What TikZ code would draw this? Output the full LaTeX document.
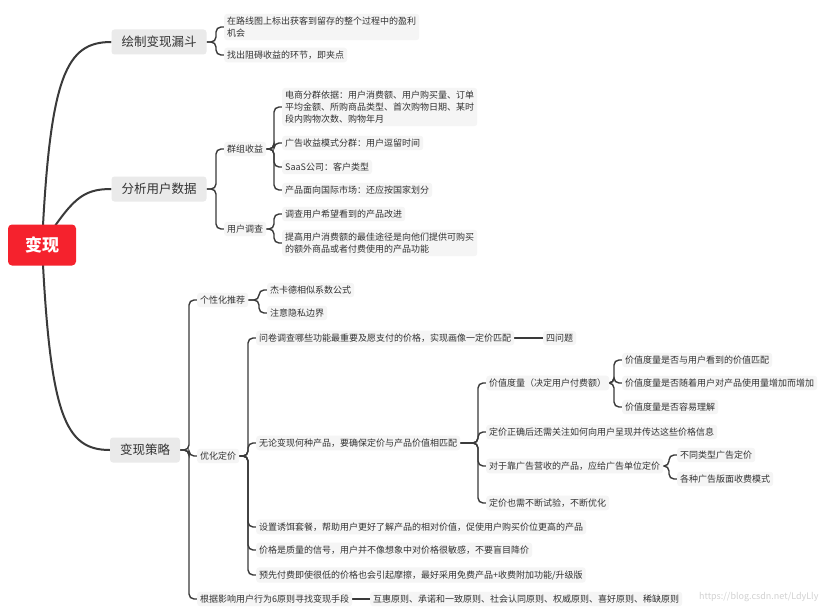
\documentclass[tikz,border=0pt]{standalone}
\usepackage{fontspec}
\setmainfont{Noto Sans CJK SC}
\usetikzlibrary{backgrounds}
\definecolor{rootred}{HTML}{F5222D}
\definecolor{linegray}{HTML}{3A3A3A}
\definecolor{boxgray}{HTML}{EAEAEA}
\definecolor{leafgray}{HTML}{F5F5F5}
\definecolor{inkgray}{HTML}{333333}

\tikzset{
  rootbox/.style={fill=rootred, rounded corners=4pt, minimum width=68pt, minimum height=41pt,
    text=white, font=\fontsize{17}{20}\selectfont\bfseries},
  topic/.style={fill=boxgray, rounded corners=3pt, inner xsep=10pt, minimum height=25pt,
    font=\fontsize{12.5}{14}\selectfont, text=inkgray},
  leaf/.style={fill=leafgray, rounded corners=3pt, inner xsep=3pt, inner ysep=3pt, anchor=west,
    align=left, font=\fontsize{9}{12}\selectfont, text=inkgray},
  trunk/.style={draw=linegray, line width=2pt},
  branch/.style={draw=linegray, line width=1.4pt, rounded corners=5pt},
}

\begin{document}
\begin{tikzpicture}[x=1pt, y=-1pt]
  \useasboundingbox (0,0) rectangle (826,615);

  % main topics
  \node[rootbox] (root) at (42,245) {变现};
  \node[topic] (fun) at (159,42) {绘制变现漏斗};
  \node[topic] (ana) at (159,189) {分析用户数据};
  \node[topic] (str) at (145,450) {变现策略};

  % funnel
  \node[leaf] (f1) at (224,27) {在路线图上标出获客到留存的整个过程中的盈利\\机会};
  \node[leaf] (f2) at (224,55) {找出阻碍收益的环节，即夹点};

  % user data
  \node[leaf] (grp) at (224,149) {群组收益};
  \node[leaf] (svy) at (224,229) {用户调查};
  \node[leaf] (g1) at (282,107) {电商分群依据：用户消费额、用户购买量、订单\\平均金额、所购商品类型、首次购物日期、某时\\段内购物次数、购物年月};
  \node[leaf] (g2) at (282,143) {广告收益模式分群：用户逗留时间};
  \node[leaf] (g3) at (282,167) {SaaS公司：客户类型};
  \node[leaf] (g4) at (282,190) {产品面向国际市场：还应按国家划分};
  \node[leaf] (s1) at (282,214) {调查用户希望看到的产品改进};
  \node[leaf] (s2) at (282,243) {提高用户消费额的最佳途径是向他们提供可购买\\的额外商品或者付费使用的产品功能};

  % strategy
  \node[leaf] (rec) at (197,300) {个性化推荐};
  \node[leaf] (opt) at (197,456) {优化定价};
  \node[leaf] (rule) at (197,599) {根据影响用户行为6原则寻找变现手段};
  \node[leaf] (r1) at (267,290) {杰卡德相似系数公式};
  \node[leaf] (r2) at (267,313) {注意隐私边界};
  \node[leaf] (o1) at (256,338) {问卷调查哪些功能最重要及愿支付的价格，实现画像一定价匹配};
  \node[leaf] (q4) at (543,338) {四问题};
  \node[leaf] (o2) at (256,443) {无论变现何种产品，要确保定价与产品价值相匹配};
  \node[leaf] (o3) at (256,527) {设置诱饵套餐，帮助用户更好了解产品的相对价值，促使用户购买价位更高的产品};
  \node[leaf] (o4) at (256,550) {价格是质量的信号，用户并不像想象中对价格很敏感，不要盲目降价};
  \node[leaf] (o5) at (256,575) {预先付费即使很低的价格也会引起摩擦，最好采用免费产品+收费附加功能/升级版};
  \node[leaf] (val) at (486,383) {价值度量（决定用户付费额）};
  \node[leaf] (v2) at (486,432) {定价正确后还需关注如何向用户呈现并传达这些价格信息};
  \node[leaf] (ads) at (486,466) {对于靠广告营收的产品，应给广告单位定价};
  \node[leaf] (v4) at (486,503) {定价也需不断试验，不断优化};
  \node[leaf] (m1) at (622,360) {价值度量是否与用户看到的价值匹配};
  \node[leaf] (m2) at (622,383) {价值度量是否随着用户对产品使用量增加而增加};
  \node[leaf] (m3) at (622,407) {价值度量是否容易理解};
  \node[leaf] (a1) at (677,455) {不同类型广告定价};
  \node[leaf] (a2) at (677,479) {各种广告版面收费模式};
  \node[leaf] (rl) at (370,599) {互惠原则、承诺和一致原则、社会认同原则、权威原则、喜好原则、稀缺原则};

  \node[anchor=east, text=gray!35, font=\fontsize{9}{10}\selectfont] (wm) at (822,597) {https://blog.csdn.net/LdyLly};

  \begin{pgfonlayer}{background}
    \fill[white] (0,0) rectangle (826,615);
    \draw[trunk] (root.center) .. controls +(8,-170) and +(-45,0) .. (fun.west);
    \draw[trunk] (root.center) .. controls +(30,-45) and +(-30,0) .. (ana.west);
    \draw[trunk] (root.center) .. controls +(8,170) and +(-45,0) .. (str.west);
    \foreach \c in {f1,f2} \draw[branch] (fun.east) -| ([xshift=-8pt]\c.west) -- (\c.west);
    \foreach \c in {grp,svy} \draw[branch] (ana.east) -| ([xshift=-8pt]\c.west) -- (\c.west);
    \foreach \c in {g1,g2,g3,g4} \draw[branch] (grp.east) -| ([xshift=-8pt]\c.west) -- (\c.west);
    \foreach \c in {s1,s2} \draw[branch] (svy.east) -| ([xshift=-8pt]\c.west) -- (\c.west);
    \foreach \c in {rec,opt,rule} \draw[branch] (str.east) -| ([xshift=-8pt]\c.west) -- (\c.west);
    \foreach \c in {r1,r2} \draw[branch] (rec.east) -| ([xshift=-8pt]\c.west) -- (\c.west);
    \foreach \c in {o1,o2,o3,o4,o5} \draw[branch] (opt.east) -| ([xshift=-8pt]\c.west) -- (\c.west);
    \foreach \c in {val,v2,ads,v4} \draw[branch] (o2.east) -| ([xshift=-8pt]\c.west) -- (\c.west);
    \foreach \c in {m1,m2,m3} \draw[branch] (val.east) -| ([xshift=-8pt]\c.west) -- (\c.west);
    \foreach \c in {a1,a2} \draw[branch] (ads.east) -| ([xshift=-8pt]\c.west) -- (\c.west);
    \draw[branch] (o1.east) -- (q4.west);
    \draw[branch] (rule.east) -- (rl.west);
  \end{pgfonlayer}
\end{tikzpicture}
\end{document}
